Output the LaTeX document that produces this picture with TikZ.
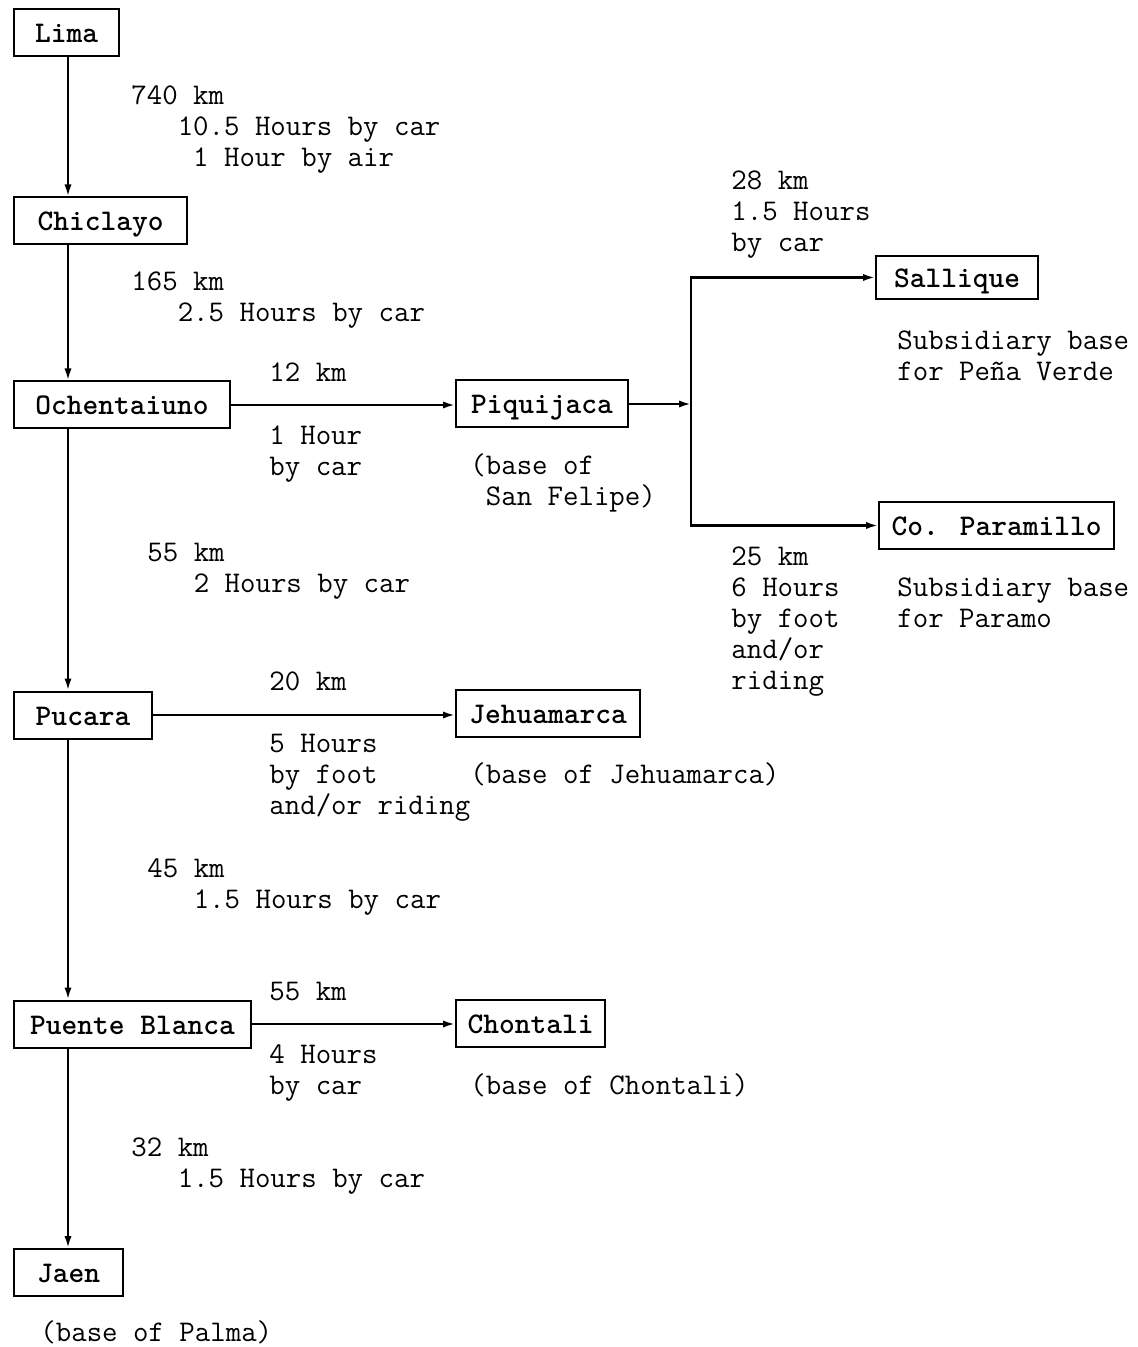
\documentclass[tikz,border=0pt]{standalone}
\usepackage{tikz}
\usetikzlibrary{arrows.meta}
\newcommand\twfont{\fontsize{15}{15.5}\selectfont\ttfamily}
\newcommand\tstrut{\rule{0pt}{12pt}}
\tikzset{
	place/.style={draw, line width=1pt, anchor=west, font=\twfont\bfseries, inner xsep=3pt, minimum height=23.5pt, text height=11.5pt, text depth=1.5pt},
	lbl/.style={anchor=north west, inner sep=0pt, align=left, font=\twfont},
	link/.style={line width=1.1pt, -{Latex[length=6pt,width=3.6pt]}}
}

\begin{document}
\begin{tikzpicture}[x=0.5pt, y=-0.5pt]
			%%%%% START %%%%%
			
			\useasboundingbox[fill=white] (0, 0) rectangle (1137, 1347);
			
			\node[place, minimum width=52.5pt] (lima) at (13, 32.5) {Lima};
			\node[place, minimum width=86.5pt] (chiclayo) at (13, 221) {Chiclayo};
			\node[place, minimum width=108pt] (ochenta) at (13, 405) {Ochentaiuno};
			\node[place, minimum width=69pt] (pucara) at (13, 715) {Pucara};
			\node[place, minimum width=118.5pt] (puente) at (13, 1024) {Puente Blanca};
			\node[place, minimum width=54.5pt] (jaen) at (13, 1272.5) {Jaen};
			
			\node[place, minimum width=86pt] (piqui) at (455, 404) {Piquijaca};
			\node[place, minimum width=92pt] (jehua) at (455, 713.5) {Jehuamarca};
			\node[place, minimum width=74.5pt] (chontali) at (455, 1023) {Chontali};
			\node[place, minimum width=81pt, minimum height=21.5pt] (sallique) at (875, 277.5) {Sallique};
			\node[place, minimum width=117.5pt] (paramillo) at (878, 525.5) {Co. Paramillo};
			
			\coordinate (spine) at (68, 0);
			\coordinate (fork) at (691, 404);
			
			\draw[link] (lima.south -| spine) -- (chiclayo.north -| spine);
			\draw[link] (chiclayo.south -| spine) -- (ochenta.north -| spine);
			\draw[link] (ochenta.south -| spine) -- (pucara.north -| spine);
			\draw[link] (pucara.south -| spine) -- (puente.north -| spine);
			\draw[link] (puente.south -| spine) -- (jaen.north -| spine);
			
			\draw[link] (ochenta.east) -- (ochenta.east -| piqui.west);
			\draw[link] (pucara.east) -- (pucara.east -| jehua.west);
			\draw[link] (puente.east) -- (puente.east -| chontali.west);
			
			\draw[link] (piqui.east) -- (piqui.east -| fork);
			\draw[link] (fork) |- (sallique.west);
			\draw[link] (fork) |- (paramillo.west);
			
			% distances and times
			\node[lbl] (d1) at (131, 80) {\tstrut 740 km\\~~~10.5 Hours by car\\~~~~1 Hour by air};
			\node[lbl] (d2) at (131, 266) {\tstrut 165 km\\~~~2.5 Hours by car};
			\node[lbl] (d3) at (269, 357) {\tstrut 12 km};
			\node[lbl] (t3) at (269, 420) {\tstrut 1 Hour\\by car};
			\node[lbl] (b3) at (470, 450) {\tstrut (base of\\~San Felipe)};
			\node[lbl] (d4) at (731, 165) {\tstrut 28 km\\1.5 Hours\\by car};
			\node[lbl] (b4) at (897, 325) {\tstrut Subsidiary base\\for Peña Verde};
			\node[lbl] (d5) at (731, 541) {\tstrut 25 km\\6 Hours\\by foot\\and/or\\riding};
			\node[lbl] (b5) at (897, 572) {\tstrut Subsidiary base\\for Paramo};
			\node[lbl] (d6) at (147, 537) {\tstrut 55 km\\~~~2 Hours by car};
			\node[lbl] (d7) at (269, 666) {\tstrut 20 km};
			\node[lbl] (t7) at (269, 728) {\tstrut 5 Hours\\by foot\\and/or riding};
			\node[lbl] (b7) at (470, 759) {\tstrut (base of Jehuamarca)};
			\node[lbl] (d8) at (147, 853) {\tstrut 45 km\\~~~1.5 Hours by car};
			\node[lbl] (d9) at (269, 976) {\tstrut 55 km};
			\node[lbl] (t9) at (269, 1039) {\tstrut 4 Hours\\by car};
			\node[lbl] (b9) at (470, 1070) {\tstrut (base of Chontali)};
			\node[lbl] (d10) at (131, 1132) {\tstrut 32 km\\~~~1.5 Hours by car};
			\node[lbl] (b10) at (40, 1317) {\tstrut (base of Palma)};
			
			%%%%% END %%%%%
\end{tikzpicture}
\end{document}
